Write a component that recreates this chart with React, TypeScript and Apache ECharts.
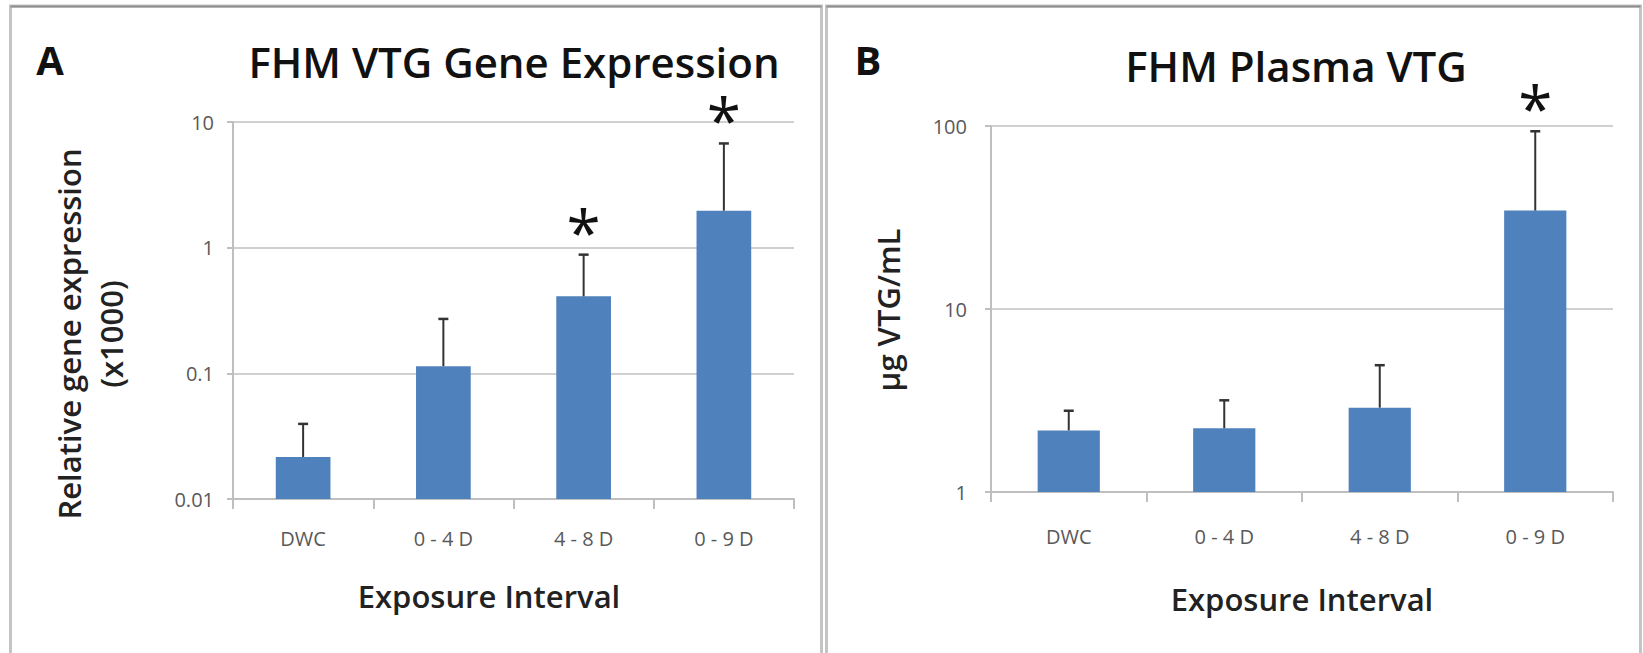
import React, { useEffect, useRef } from "react";
import * as echarts from "echarts";

const categories = ["DWC", "0 - 4 D", "4 - 8 D", "0 - 9 D"];
const geneMean = [0.0216, 0.114, 0.41, 1.97];
const geneErrTop = [0.0396, 0.271, 0.88, 6.75];
const geneSig = [false, false, true, true];
const plasmaMean = [2.17, 2.23, 2.89, 34.5];
const plasmaErrTop = [2.78, 3.17, 4.93, 93.6];
const plasmaSig = [false, false, false, true];
const geneTicks = [0.01, 0.1, 1, 10];
const plasmaTicks = [1, 10, 100];

const FONT = "'Open Sans'";
const BAR = "#4f81bd";
const GRID = "#d0d0d0";
const TICKTXT = "#595959";

function errSeries(idx: number, means: number[], tops: number[], sig: boolean[]) {
  return {
    type: "custom",
    xAxisIndex: idx,
    yAxisIndex: idx,
    z: 5,
    data: means.map((m, i) => [i, m, tops[i], sig[i] ? 1 : 0]),
    renderItem: (params: any, api: any) => {
      const x = api.value(0);
      const base = api.coord([x, api.value(1)]);
      const top = api.coord([x, api.value(2)]);
      const children: any[] = [
        { type: "line", shape: { x1: base[0], y1: base[1], x2: top[0], y2: top[1] }, style: { stroke: "#333", lineWidth: 2 } },
        { type: "line", shape: { x1: top[0] - 5, y1: top[1], x2: top[0] + 5, y2: top[1] }, style: { stroke: "#333", lineWidth: 2.5 } },
      ];
      if (api.value(3) === 1) {
        children.push({
          type: "text",
          style: { text: "*", x: top[0], y: top[1] - 24, align: "center", verticalAlign: "middle", font: `normal 62px ${FONT}`, lineHeight: 22, fill: "#111" },
        });
      }
      return { type: "group", children };
    },
  };
}

export default function App() {
  const ref = useRef<HTMLDivElement>(null);
  useEffect(() => {
    const chart = echarts.init(ref.current!, null, { renderer: "svg" });
    const axisLabel = { color: TICKTXT, fontSize: 20, fontFamily: FONT };
    const yCommon = (min: number, max: number, margin: number, ticks: number[]) => ({
      type: "log",
      logBase: 10,
      min,
      max,
      startValue: min,
      axisLine: { show: true, lineStyle: { color: "#bfbfbf", width: 2 } },
      axisTick: { show: true, length: 6, lineStyle: { color: "#bfbfbf", width: 2 } },
      splitLine: { show: true, lineStyle: { color: GRID, width: 2 } },
      axisLabel: { ...axisLabel, margin, formatter: (v: number) => (ticks.includes(Number(v.toPrecision(6))) ? String(Number(v.toPrecision(6))) : "") },
    });
    const xCommon = (idx: number, margin: number) => ({
      type: "category",
      gridIndex: idx,
      data: categories,
      axisLine: { show: true, lineStyle: { color: "#bfbfbf", width: 2 } },
      axisTick: { show: true, length: 10, lineStyle: { color: "#bfbfbf", width: 2 } },
      axisLabel: { ...axisLabel, margin },
    });
    const border = (x: number, w: number) => [
      { type: "rect", shape: { x, y: 6, width: w, height: 700 }, style: { fill: "none", stroke: "#c4c4c4", lineWidth: 3 }, silent: true },
      { type: "line", shape: { x1: x, y1: 6.5, x2: x + w, y2: 6.5 }, style: { stroke: "#8c8c8c", lineWidth: 2 }, silent: true },
    ];
    chart.setOption({
      animation: false,
      backgroundColor: "#ffffff",
      grid: [
        { left: 233, top: 122, right: 849, bottom: 154 },
        { left: 991, top: 126, right: 30, bottom: 161 },
      ],
      xAxis: [xCommon(0, 29), { ...xCommon(1, 34) }],
      yAxis: [
        { ...yCommon(0.01, 10, 19, geneTicks), gridIndex: 0 },
        { ...yCommon(1, 100, 24, plasmaTicks), gridIndex: 1 },
      ],
      series: [
        { type: "bar", xAxisIndex: 0, yAxisIndex: 0, data: geneMean, barWidth: "39%", itemStyle: { color: BAR } },
        errSeries(0, geneMean, geneErrTop, geneSig),
        { type: "bar", xAxisIndex: 1, yAxisIndex: 1, data: plasmaMean, barWidth: "40%", itemStyle: { color: BAR } },
        errSeries(1, plasmaMean, plasmaErrTop, plasmaSig),
      ],
      graphic: [
        ...border(10.5, 811),
        ...border(826.5, 814),
        { type: "text", x: 50, y: 59, style: { text: "A", font: `bold 40px ${FONT}`, fill: "#111", align: "center", verticalAlign: "middle" } },
        { type: "text", x: 868, y: 59, style: { text: "B", font: `bold 40px ${FONT}`, fill: "#111", align: "center", verticalAlign: "middle" } },
        { type: "text", x: 514, y: 61, style: { text: "FHM VTG Gene Expression", font: `600 42px ${FONT}`, fill: "#111", align: "center", verticalAlign: "middle" } },
        { type: "text", x: 1296, y: 65, style: { text: "FHM Plasma VTG", font: `600 42px ${FONT}`, fill: "#111", align: "center", verticalAlign: "middle" } },
        { type: "text", x: 489, y: 596, style: { text: "Exposure Interval", font: `600 31px ${FONT}`, fill: "#222", align: "center", verticalAlign: "middle" } },
        { type: "text", x: 1302, y: 599, style: { text: "Exposure Interval", font: `600 31px ${FONT}`, fill: "#222", align: "center", verticalAlign: "middle" } },
        { type: "text", x: 90, y: 334, rotation: Math.PI / 2, style: { text: "Relative gene expression\n(x1000)", font: `600 31px ${FONT}`, lineHeight: 42, fill: "#222", align: "center", verticalAlign: "middle" } },
        { type: "text", x: 888, y: 310, rotation: Math.PI / 2, style: { text: "µg VTG/mL", font: `600 31px ${FONT}`, fill: "#222", align: "center", verticalAlign: "middle" } },
      ],
    });
    return () => chart.dispose();
  }, []);
  return <div ref={ref} style={{ position: "fixed", left: 0, top: 0, width: 1643, height: 653 }} />;
}
